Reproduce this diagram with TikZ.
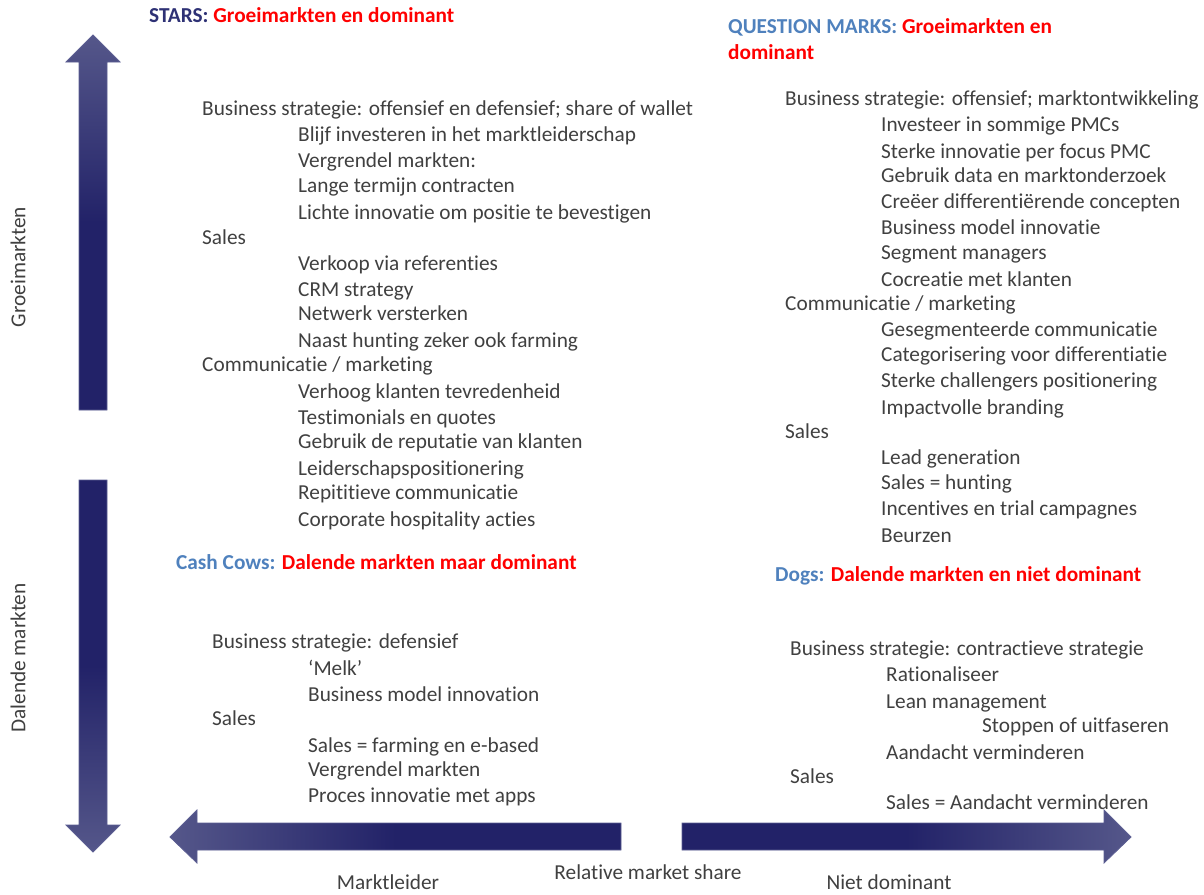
\documentclass[tikz,border=0pt]{standalone}
\usepackage{fontspec}
\setmainfont{Carlito}[Ligatures=NoCommon]
\definecolor{bodygray}{HTML}{404040}
\definecolor{starnavy}{HTML}{2E3175}
\definecolor{qblue}{HTML}{4F81BD}
\definecolor{headred}{HTML}{FF0000}
\definecolor{arrowdark}{HTML}{222268}
\definecolor{arrowlight}{HTML}{55578A}
\definecolor{arrowedge}{HTML}{5C5E92}
\newcommand{\bodyline}[4]{\node[body] (#1) at (#2,#3) {#4};}
\begin{document}
\begin{tikzpicture}[x=1pt,y=-1pt,
  body/.style={anchor=base west, inner sep=0pt, text=bodygray, font=\fontsize{21.3}{25}\selectfont},
  head/.style={anchor=base west, inner sep=0pt, font=\bfseries\fontsize{21.3}{25}\selectfont},
  axislabel/.style={anchor=base, inner sep=0pt, text=bodygray, font=\fontsize{21.3}{25}\selectfont},
  bigarrow/.style={draw=arrowedge, line width=0.8pt}]
\useasboundingbox (0,0) rectangle (1204,894);

% vertical axis arrows
\shade[bigarrow, top color=arrowlight, bottom color=arrowdark, middle color=arrowdark]
  (79,410) -- (79,62) -- (66,62) -- (93,35) -- (120,62) -- (107,62) -- (107,410) -- cycle;
\shade[bigarrow, top color=arrowdark, bottom color=arrowlight, middle color=arrowdark]
  (79,480) -- (79,825) -- (66,825) -- (93,852) -- (120,825) -- (107,825) -- (107,480) -- cycle;

% horizontal axis arrows
\shade[bigarrow, left color=arrowlight, right color=arrowdark, middle color=arrowdark]
  (621,823) -- (197,823) -- (197,810) -- (170,837) -- (197,863) -- (197,850) -- (621,850) -- cycle;
\shade[bigarrow, left color=arrowdark, right color=arrowlight, middle color=arrowdark]
  (682,823) -- (1104,823) -- (1104,810) -- (1131,837) -- (1104,863) -- (1104,850) -- (682,850) -- cycle;

% axis labels
\node[axislabel, rotate=90, anchor=center] (groei) at (18,267) {Groeimarkten};
\node[axislabel, rotate=90, anchor=center] (dalend) at (18,658) {Dalende markten};
\node[axislabel] (leider) at (388,889) {Marktleider};
\node[axislabel] (rms) at (648,879) {Relative market share};
\node[axislabel] (nietdom) at (889,889) {Niet dominant};

% quadrant headings
\node[head, text=starnavy] (starsHd) at (149,23) {STARS: \textcolor{headred}{Groeimarkten en dominant}};
\node[head, text=qblue] (qmHd) at (728,33) {QUESTION MARKS: \textcolor{headred}{Groeimarkten en}};
\node[head, text=headred] (qmHd2) at (728,59) {dominant};
\node[head, text=qblue] (cowsHd) at (176,569) {Cash Cows: \textcolor{headred}{Dalende markten maar dominant}};
\node[head, text=qblue] (dogsHd) at (775,581) {Dogs: \textcolor{headred}{Dalende markten en niet dominant}};

% stars
\bodyline{s1}{202}{115}{Business strategie: offensief en defensief; share of wallet}
\bodyline{s2}{298}{141}{Blijf investeren in het marktleiderschap}
\bodyline{s3}{298}{167}{Vergrendel markten:}
\bodyline{s4}{298}{192}{Lange termijn contracten}
\bodyline{s5}{298}{219}{Lichte innovatie om positie te bevestigen}
\bodyline{s6}{202}{244}{Sales}
\bodyline{s7}{298}{270}{Verkoop via referenties}
\bodyline{s8}{298}{296}{CRM strategy}
\bodyline{s9}{298}{320}{Netwerk versterken}
\bodyline{s10}{298}{347}{Naast hunting zeker ook farming}
\bodyline{s11}{202}{371}{Communicatie / marketing}
\bodyline{s12}{298}{398}{Verhoog klanten tevredenheid}
\bodyline{s13}{298}{424}{Testimonials en quotes}
\bodyline{s14}{298}{448}{Gebruik de reputatie van klanten}
\bodyline{s15}{298}{475}{Leiderschapspositionering}
\bodyline{s16}{298}{499}{Repititieve communicatie}
\bodyline{s17}{298}{526}{Corporate hospitality acties}

% question marks
\bodyline{q1}{785}{105}{Business strategie: offensief; marktontwikkeling}
\bodyline{q2}{881}{131}{Investeer in sommige PMCs}
\bodyline{q3}{881}{158}{Sterke innovatie per focus PMC}
\bodyline{q4}{881}{182}{Gebruik data en marktonderzoek}
\bodyline{q5}{881}{208}{Creëer differentiërende concepten}
\bodyline{q6}{881}{234}{Business model innovatie}
\bodyline{q7}{881}{259}{Segment managers}
\bodyline{q8}{881}{286}{Cocreatie met klanten}
\bodyline{q9}{785}{310}{Communicatie / marketing}
\bodyline{q10}{881}{336}{Gesegmenteerde communicatie}
\bodyline{q11}{881}{361}{Categorisering voor differentiatie}
\bodyline{q12}{881}{387}{Sterke challengers positionering}
\bodyline{q13}{881}{414}{Impactvolle branding}
\bodyline{q14}{785}{438}{Sales}
\bodyline{q15}{881}{464}{Lead generation}
\bodyline{q16}{881}{489}{Sales = hunting}
\bodyline{q17}{881}{515}{Incentives en trial campagnes}
\bodyline{q18}{881}{542}{Beurzen}

% cash cows
\bodyline{c1}{212}{648}{Business strategie: defensief}
\bodyline{c2}{308}{675}{‘Melk’}
\bodyline{c3}{308}{701}{Business model innovation}
\bodyline{c4}{212}{725}{Sales}
\bodyline{c5}{308}{752}{Sales = farming en e-based}
\bodyline{c6}{308}{776}{Vergrendel markten}
\bodyline{c7}{308}{802}{Proces innovatie met apps}

% dogs
\bodyline{d1}{790}{655}{Business strategie: contractieve strategie}
\bodyline{d2}{886}{681}{Rationaliseer}
\bodyline{d3}{886}{708}{Lean management}
\bodyline{d4}{982}{732}{Stoppen of uitfaseren}
\bodyline{d5}{886}{759}{Aandacht verminderen}
\bodyline{d6}{790}{783}{Sales}
\bodyline{d7}{886}{809}{Sales = Aandacht verminderen}
\end{tikzpicture}
\end{document}
